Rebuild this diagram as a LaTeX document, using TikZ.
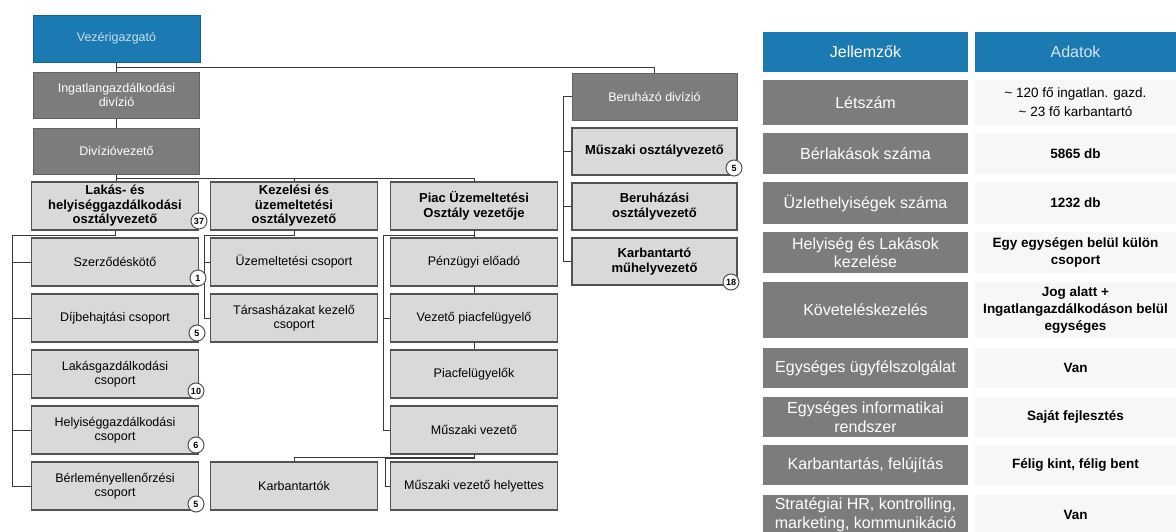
\documentclass[tikz,border=0pt]{standalone}
\usepackage{fontspec}
\setmainfont{Liberation Sans}
\usepackage{tikz}
\usetikzlibrary{positioning}

\definecolor{leadblue}{RGB}{28,122,178}
\definecolor{divgray}{RGB}{124,124,124}
\definecolor{unitgray}{RGB}{217,217,217}
\definecolor{rimgray}{RGB}{82,82,82}
\definecolor{linkgray}{RGB}{58,58,58}
\definecolor{cellgray}{RGB}{247,247,247}

\newcommand{\orgfont}{\fontsize{12.5}{14}\selectfont}
\newcommand{\headfont}{\fontsize{13}{14.5}\selectfont\bfseries}
\newcommand{\tabfont}{\fontsize{16}{18.5}\selectfont}
\newcommand{\valfont}{\fontsize{13.5}{17}\selectfont\bfseries}
\newcommand{\badgefont}{\fontsize{9}{9}\selectfont\bfseries}

\begin{document}
\begin{tikzpicture}[x=1pt, y=-1pt, line width=1pt,
  lead/.style={fill=leadblue, draw=leadblue!80!black, text=white!75!leadblue, minimum width=167pt, minimum height=47pt, font=\orgfont},
  div/.style={fill=divgray, draw=divgray!80!black, text=white, minimum width=166pt, minimum height=46pt, font=\orgfont, align=center},
  unit/.style={fill=unitgray, draw=rimgray, line width=1.1pt, minimum width=167pt, minimum height=48pt, font=\orgfont, align=center, inner sep=1pt},
  head/.style={unit, font=\headfont},
  badge/.style={circle, draw=rimgray, fill=white, line width=1pt, minimum size=16pt, inner sep=0pt, font=\badgefont},
  link/.style={draw=linkgray, line width=1pt},
  thead/.style={fill=leadblue, minimum height=40pt, font=\tabfont},
  tkey/.style={fill=divgray, text=white, minimum width=205pt, font=\tabfont, align=center, inner sep=0pt},
  tval/.style={fill=cellgray, minimum width=201pt, font=\valfont, align=center, inner sep=0pt}]
\useasboundingbox[fill=white] (0,0) rectangle (1176,531);

% top of the chart
\node[lead] (ceo) at (116.5,38.5) {Vezérigazgató};
\node[div] (ingatl) at (116.5,95) {Ingatlangazdálkodási\\divízió};
\node[div] (divvez) at (116.5,151) {Divízióvezető};

% department heads
\node[head] (lakas) at (115,206) {Lakás- és\\helyiséggazdálkodási\\osztályvezető};
\node[head] (kezel) at (294,206) {Kezelési és\\üzemeltetési\\osztályvezető};
\node[head] (piac) at (474,206) {Piac Üzemeltetési\\Osztály vezetője};

% groups
\node[unit] (szerz) at (115,262) {Szerződéskötő};
\node[unit] (dij) at (115,318) {Díjbehajtási csoport};
\node[unit] (lakgazd) at (115,374) {Lakásgazdálkodási\\csoport};
\node[unit] (helyg) at (115,430) {Helyiséggazdálkodási\\csoport};
\node[unit] (berlem) at (115,486) {Bérleményellenőrzési\\csoport};

\node[unit] (uzem) at (294,262) {Üzemeltetési csoport};
\node[unit] (tarsas) at (294,318) {Társasházakat kezelő\\csoport};
\node[unit] (karb) at (294,486) {Karbantartók};

\node[unit] (penz) at (474,262) {Pénzügyi előadó};
\node[unit] (vezpiac) at (474,318) {Vezető piacfelügyelő};
\node[unit] (piacf) at (474,374) {Piacfelügyelők};
\node[unit] (muszv) at (474,430) {Műszaki vezető};
\node[unit] (helyet) at (474,486) {Műszaki vezető helyettes};

% investment division
\node[div, minimum width=165pt, minimum height=47pt] (beruh) at (654.5,96.5) {Beruházó divízió};
\node[head, minimum width=165pt, minimum height=47pt] (muszo) at (654.5,151.5) {Műszaki osztályvezető};
\node[head, minimum width=165pt, minimum height=47pt] (beruhaz) at (654.5,206.5) {Beruházási\\osztályvezető};
\node[head, minimum width=165pt, minimum height=47pt] (karbm) at (654.5,261.5) {Karbantartó\\műhelyvezető};

% connectors
\draw[link] (ceo.south) -- (ingatl.north);
\draw[link] (ceo.south) -- ++(0,5) -| (beruh.north);
\draw[link] (ingatl.south) -- (divvez.north);
\draw[link] (divvez.south) -- (divvez.south |- lakas.north);
\draw[link] (divvez.south) -- ++(0,4) -| (piac.north);
\draw[link] (divvez.south) -- ++(0,4) -| (kezel.north);

\coordinate (lbus) at (12,235);
\draw[link] (lakas.south) |- (lbus) |- (berlem.west);
\foreach \n in {szerz,dij,lakgazd,helyg}
  \draw[link] (lbus |- \n.west) -- (\n.west);

\coordinate (kbus) at (204,235);
\draw[link] (kezel.south) |- (kbus) |- (tarsas.west);
\draw[link] (kbus |- uzem.west) -- (uzem.west);

\coordinate (pbus) at (383,235);
\draw[link] (piac.south) |- (pbus) |- (muszv.west);
\draw[link] (pbus |- vezpiac.west) -- (vezpiac.west);
\draw[link] (piac.south) -- (penz.north);
\draw[link] (penz.south) -- (vezpiac.north);
\draw[link] (vezpiac.south) -- (piacf.north);

\coordinate (hbus) at (385,458);
\draw[link] (muszv.south) |- (hbus) |- (helyet.west);
\draw[link] (muszv.south) -- ++(0,3) -| (karb.north);

\coordinate (bbus) at (563,96.5);
\draw[link] (beruh.west) -- (bbus) |- (karbm.west);
\foreach \n in {muszo,beruhaz}
  \draw[link] (bbus |- \n.west) -- (\n.west);

% head counts
\node[badge] (c37) at (199,221) {37};
\node[badge] (c1) at (198,278) {1};
\node[badge] (c5a) at (197,333) {5};
\node[badge] (c10) at (196,391) {10};
\node[badge] (c6) at (196,445) {6};
\node[badge] (c5b) at (196,504) {5};
\node[badge] (c5c) at (734,168) {5};
\node[badge] (c18) at (731,282) {18};

% key figures
\node[thead, minimum width=205pt, text=white] (jel) at (865.5,52) {Jellemzők};
\node[thead, minimum width=201pt, text=white!80!leadblue] (adat) at (1075.5,52) {Adatok};

\node[tkey, minimum height=45pt] (k1) at (865.5,102.5) {Létszám};
\node[tval, minimum height=45pt, font=\fontsize{13.5}{19}\selectfont] (v1) at (1075.5,102.5) {\textasciitilde{} 120 fő ingatlan. gazd.\\\textasciitilde{} 23 fő karbantartó};
\node[tkey, minimum height=41pt] (k2) at (865.5,153.5) {Bérlakások száma};
\node[tval, minimum height=41pt] (v2) at (1075.5,153.5) {5865 db};
\node[tkey, minimum height=42pt] (k3) at (865.5,203) {Üzlethelyiségek száma};
\node[tval, minimum height=42pt] (v3) at (1075.5,203) {1232 db};
\node[tkey, minimum height=41pt] (k4) at (865.5,252.5) {Helyiség és Lakások\\kezelése};
\node[tval, minimum height=41pt] (v4) at (1075.5,252.5) {Egy egységen belül külön\\csoport};
\node[tkey, minimum height=56pt] (k5) at (865.5,310) {Követeléskezelés};
\node[tval, minimum height=56pt] (v5) at (1075.5,310) {Jog alatt +\\Ingatlangazdálkodáson belül\\egységes};
\node[tkey, minimum height=40pt] (k6) at (865.5,368) {Egységes ügyfélszolgálat};
\node[tval, minimum height=40pt] (v6) at (1075.5,368) {Van};
\node[tkey, minimum height=40pt] (k7) at (865.5,417) {Egységes informatikai\\rendszer};
\node[tval, minimum height=40pt] (v7) at (1075.5,417) {Saját fejlesztés};
\node[tkey, minimum height=40pt] (k8) at (865.5,465) {Karbantartás, felújítás};
\node[tval, minimum height=40pt] (v8) at (1075.5,465) {Félig kint, félig bent};
\node[tkey, minimum height=40pt] (k9) at (865.5,515) {Stratégiai HR, kontrolling,\\marketing, kommunikáció};
\node[tval, minimum height=40pt] (v9) at (1075.5,515) {Van};
\end{tikzpicture}
\end{document}
